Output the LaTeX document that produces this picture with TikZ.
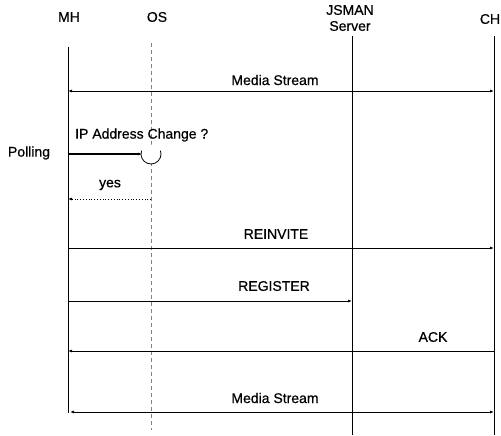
\documentclass[tikz,border=0pt]{standalone}
\usepackage{fontspec}
\setmainfont{Liberation Sans}
\newfontfamily\lblfont[FakeBold=0.6]{Liberation Sans}
\usetikzlibrary{arrows.meta}
\begin{document}
\begin{tikzpicture}[x=1pt,y=-1pt,
  lbl/.style={font=\lblfont\fontsize{14}{16}\selectfont, inner sep=0pt},
  life/.style={line width=0.8pt},
  msg/.style={line width=0.8pt, -{Latex[length=4pt,width=3pt]}},
  bimsg/.style={line width=0.8pt, {Latex[length=4pt,width=3pt]}-{Latex[length=4pt,width=3pt]}}]
\useasboundingbox (0,0) rectangle (501,436);
% headers
\node[lbl] (hmh) at (69,17) {MH};
\node[lbl] (hos) at (157,17) {OS};
\node[lbl, align=center] (hjs) at (350,18) {JSMAN\\Server};
\node[lbl] (hch) at (490,19) {CH};
% lifelines
\coordinate (mhT) at (68,47);  \coordinate (mhB) at (68,413);
\coordinate (osT) at (151,43); \coordinate (osB) at (151,430);
\coordinate (jsT) at (352,36); \coordinate (jsB) at (352,435);
\coordinate (chT) at (494,36); \coordinate (chB) at (494,435);
\draw[life] (mhT) -- (mhB);
\draw[gray, line width=0.5pt, dash pattern=on 4pt off 3pt] (osT) -- (osB);
\draw[life] (jsT) -- (jsB);
\draw[life] (chT) -- (chB);
% media stream 1
\coordinate (m1a) at (68,91); \coordinate (m1b) at (494,91);
\draw[bimsg] (m1a) -- (m1b);
\node[lbl] (t1) at (275,80) {Media Stream};
% polling
\node[lbl] (poll) at (29,153) {Polling};
\coordinate (pa) at (68,154); \coordinate (pb) at (142,154);
\draw[msg, line width=1.2pt] (pa) -- (pb);
\node[lbl, anchor=west] (ipc) at (75,135) {IP Address Change ?};
\coordinate (cc) at (151,154);
\fill[white] (cc) circle[radius=9.5];
\draw[line width=0.8pt] (cc) ++(200:10) arc[start angle=200, end angle=-20, radius=10];
% yes
\coordinate (ya) at (151,199); \coordinate (yb) at (68,199);
\draw[msg, dotted] (ya) -- (yb);
\node[lbl] (yes) at (110,185) {yes};
% reinvite
\coordinate (ra) at (68,248); \coordinate (rb) at (494,248);
\draw[msg] (ra) -- (rb);
\node[lbl] (rei) at (276,234) {REINVITE};
% register
\coordinate (ga) at (68,301); \coordinate (gb) at (352,301);
\draw[msg] (ga) -- (gb);
\node[lbl] (reg) at (274,286) {REGISTER};
% ack
\coordinate (aa) at (494,351); \coordinate (ab) at (68,351);
\draw[msg] (aa) -- (ab);
\node[lbl] (ack) at (433,337) {ACK};
% media stream 2
\coordinate (m2a) at (70,412); \coordinate (m2b) at (494,412);
\draw[bimsg] (m2a) -- (m2b);
\node[lbl] (t2) at (275,398) {Media Stream};
\end{tikzpicture}
\end{document}
